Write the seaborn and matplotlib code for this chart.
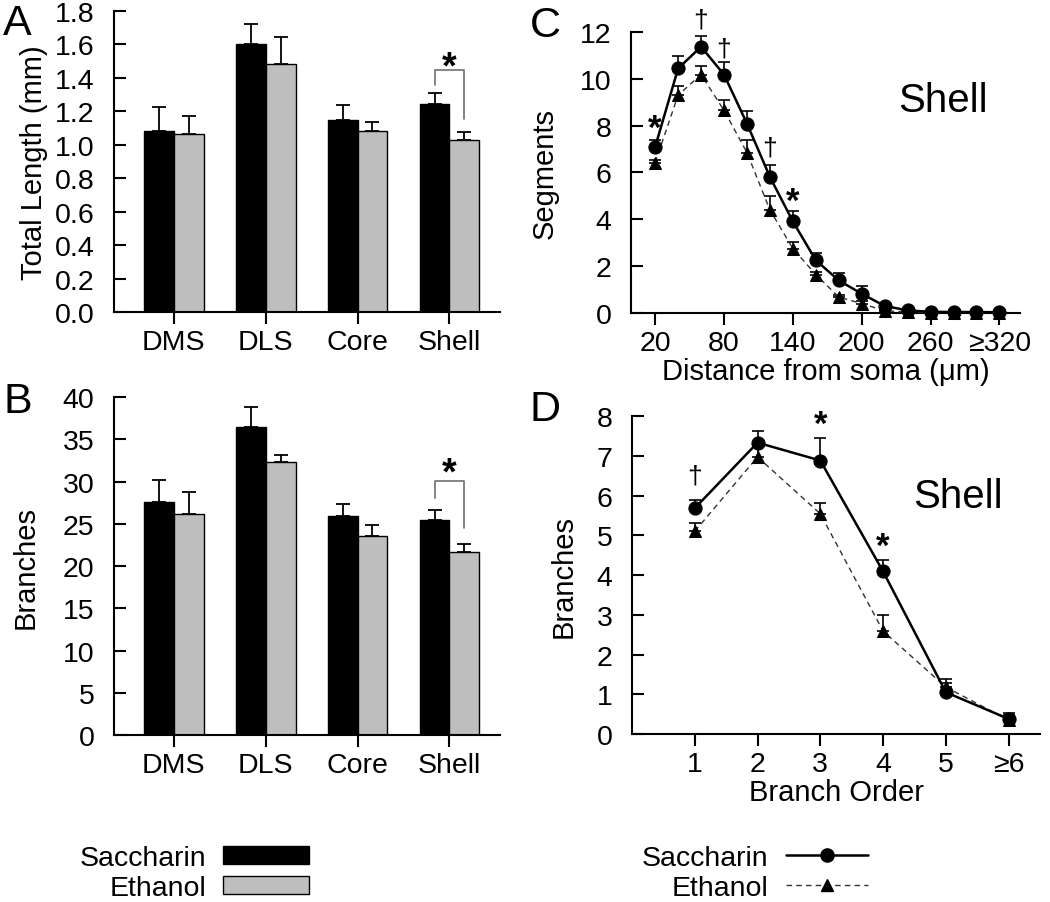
import numpy as np
import pandas as pd
import seaborn as sns
import matplotlib.pyplot as plt
from matplotlib.patches import Patch
from matplotlib.lines import Line2D

regions = ['DMS', 'DLS', 'Core', 'Shell']
groups = ['Saccharin', 'Ethanol']

length_sac = [1.08, 1.60, 1.15, 1.245]
length_sac_err = [0.145, 0.125, 0.09, 0.065]
length_eth = [1.066, 1.485, 1.08, 1.028]
length_eth_err = [0.104, 0.16, 0.054, 0.048]

branch_sac = [27.6, 36.5, 25.9, 25.5]
branch_sac_err = [2.6, 2.3, 1.4, 1.1]
branch_eth = [26.2, 32.3, 23.5, 21.7]
branch_eth_err = [2.6, 0.8, 1.3, 0.9]

distance = [20, 40, 60, 80, 100, 120, 140, 160, 180, 200, 220, 240, 260, 280, 300, 320]
dist_ticks = [20, 80, 140, 200, 260, 320]
dist_labels = ['20', '80', '140', '200', '260', '≥320']
seg_sac = [7.09, 10.44, 11.37, 10.18, 8.09, 5.81, 3.91, 2.25, 1.39, 0.82, 0.30, 0.11, 0.05, 0.04, 0.04, 0.03]
seg_sac_err = [0.28, 0.53, 0.45, 0.55, 0.54, 0.50, 0.45, 0.33, 0.32, 0.33, 0.05, 0.03, 0.02, 0.02, 0.02, 0.02]
seg_eth = [6.42, 9.30, 10.18, 8.65, 6.85, 4.40, 2.75, 1.64, 0.68, 0.40, 0.10, 0.03, 0.02, 0.02, 0.02, 0.02]
seg_eth_err = [0.10, 0.40, 0.35, 0.45, 0.55, 0.58, 0.30, 0.10, 0.10, 0.10, 0.02, 0.01, 0.0, 0.0, 0.0, 0.0]

order = [1, 2, 3, 4, 5, 6]
order_labels = ['1', '2', '3', '4', '5', '≥6']
br_sac = [5.68, 7.33, 6.88, 4.09, 1.05, 0.38]
br_sac_err = [0.21, 0.29, 0.57, 0.30, 0.34, 0.15]
br_eth = [5.10, 6.97, 5.54, 2.59, 1.18, 0.35]
br_eth_err = [0.21, 0.28, 0.28, 0.41, 0.10, 0.13]

sns.set_style('ticks')
plt.rcParams['font.family'] = ['Liberation Sans', 'DejaVu Sans']
plt.rcParams.update({
    'axes.linewidth': 1.5, 'axes.edgecolor': 'black', 'axes.labelcolor': 'black',
    'text.color': 'black', 'xtick.color': 'black', 'ytick.color': 'black',
    'xtick.direction': 'out', 'ytick.direction': 'in',
    'xtick.major.size': 8.5, 'ytick.major.size': 8.5,
    'xtick.major.width': 1.5, 'ytick.major.width': 1.5,
    'ytick.major.pad': 14, 'xtick.major.pad': 3.5,
})

TICK = 20.5
LAB = 21
GRAY = '#bebebe'

fig = plt.figure(figsize=(10.5, 9.03), dpi=100)
axA = fig.add_axes([0.1086, 0.6534, 0.3676, 0.3333])
axB = fig.add_axes([0.1086, 0.1849, 0.3676, 0.3743])
axC = fig.add_axes([0.601, 0.6523, 0.3705, 0.3112])
axD = fig.add_axes([0.6019, 0.186, 0.3886, 0.3522])


def bars(ax, sac, sac_err, eth, eth_err, ylim, yticks, ylabel, pad, bracket, star_y):
    df = pd.DataFrame({'region': regions * 2,
                       'group': ['Saccharin'] * 4 + ['Ethanol'] * 4,
                       'value': sac + eth})
    sns.barplot(data=df, x='region', y='value', hue='group', order=regions,
                hue_order=groups, palette=['black', GRAY], edgecolor='black',
                linewidth=1.0, width=0.65, errorbar=None, legend=False,
                saturation=1, ax=ax)
    pats = sorted(ax.patches, key=lambda p: p.get_x())
    xs = [p.get_x() + p.get_width() / 2 for p in pats]
    sac_x = xs[0::2]
    eth_x = xs[1::2]
    for x, y, e in [(sac_x, sac, sac_err), (eth_x, eth, eth_err)]:
        ax.errorbar(x, y, yerr=[np.zeros(len(e)), e], fmt='none', ecolor='black',
                    elinewidth=1.3, capsize=5, capthick=1.3, zorder=1)
    l, top, r = bracket
    ax.plot([sac_x[3], sac_x[3], eth_x[3], eth_x[3]], [l, top, top, r],
            color='#707070', lw=1.2)
    ax.text(3, star_y, '*', ha='center', va='center', fontsize=27, fontweight='bold')
    ax.set_xlim(-0.65, 3.55)
    ax.set_ylim(*ylim)
    ax.set_yticks(yticks)
    ax.set_xlabel('')
    ax.set_ylabel(ylabel, fontsize=LAB, labelpad=pad)
    ax.tick_params(labelsize=TICK)
    sns.despine(ax=ax)


bars(axA, length_sac, length_sac_err, length_eth, length_eth_err, (0, 1.8),
     np.arange(0, 1.81, 0.2), 'Total Length (mm)', 5, (1.36, 1.445, 1.156), 1.46)
axA.set_yticklabels([f'{v:.1f}' for v in np.arange(0, 1.81, 0.2)])
bars(axB, branch_sac, branch_sac_err, branch_eth, branch_eth_err, (0, 40),
     range(0, 41, 5), 'Branches', 17, (28.1, 30.06, 24.5), 31.0)


def lines(ax, x, sac, sac_err, eth, eth_err):
    ax.errorbar(x, eth, yerr=[np.zeros(len(eth_err)), eth_err], fmt='none',
                ecolor='black', elinewidth=1.2, capsize=4.5, capthick=1.2,
                zorder=2, clip_on=False)
    ax.errorbar(x, sac, yerr=[np.zeros(len(sac_err)), sac_err], fmt='none',
                ecolor='black', elinewidth=1.2, capsize=4.5, capthick=1.2,
                zorder=2, clip_on=False)
    sns.lineplot(x=x, y=eth, color='#333333', linestyle=(0, (4, 3)), lw=1.0,
                 marker='^', markersize=8, markeredgecolor='black',
                 markerfacecolor='black', ax=ax, zorder=3, clip_on=False)
    sns.lineplot(x=x, y=sac, color='black', lw=1.8, marker='o', markersize=9.5,
                 markeredgecolor='black', ax=ax, zorder=4, clip_on=False)
    ax.tick_params(labelsize=TICK)
    sns.despine(ax=ax)


lines(axC, distance, seg_sac, seg_sac_err, seg_eth, seg_eth_err)
axC.set_xlim(-1, 338)
axC.set_ylim(0, 12)
axC.set_yticks(range(0, 13, 2))
axC.set_xticks(dist_ticks)
axC.set_xticklabels(dist_labels)
axC.set_xlabel('Distance from soma (μm)', fontsize=LAB, labelpad=1)
axC.set_ylabel('Segments', fontsize=LAB, labelpad=15)
axC.text(271, 9.1, 'Shell', ha='center', va='center', fontsize=29)
for x, y, s in [(20, 7.9, '*'), (60, 12.55, '†'), (80, 11.3, '†'), (120, 7.05, '†'), (140, 4.75, '*')]:
    axC.text(x, y, s, ha='center', va='center', fontsize=25 if s == '*' else 19,
             fontweight='bold' if s == '*' else 'normal')

lines(axD, order, br_sac, br_sac_err, br_eth, br_eth_err)
axD.set_xlim(0, 6.5)
axD.set_ylim(0, 8)
axD.set_yticks(range(0, 9))
axD.set_xticks(order)
axD.set_xticklabels(order_labels)
axD.set_xlabel('Branch Order', fontsize=LAB, labelpad=1)
axD.set_ylabel('Branches', fontsize=LAB, labelpad=13.5)
axD.text(5.19, 6.0, 'Shell', ha='center', va='center', fontsize=29)
for x, y, s in [(1, 6.5, '†'), (3, 7.8, '*'), (4, 4.72, '*')]:
    axD.text(x, y, s, ha='center', va='center', fontsize=25 if s == '*' else 19,
             fontweight='bold' if s == '*' else 'normal')

for lab, x, y in [('A', 17, 24), ('B', 18, 402), ('C', 545, 26), ('D', 545, 410)]:
    fig.text(x / 1050, 1 - y / 903, lab, ha='center', va='center', fontsize=31)

bar_handles = [Patch(facecolor='black', edgecolor='black', lw=1.0),
               Patch(facecolor=GRAY, edgecolor='black', lw=1.0)]
fig.legend(bar_handles, groups, loc='center', bbox_to_anchor=(194 / 1050, 1 - 874 / 903),
           frameon=False, markerfirst=False, fontsize=20.5, handlelength=3.0,
           handleheight=0.6, handletextpad=0.6, labelspacing=0.15, borderpad=0)
line_handles = [Line2D([], [], color='black', lw=1.8, marker='o', markersize=9.5),
                Line2D([], [], color='#333333', lw=1.0, linestyle=(0, (4, 3)),
                       marker='^', markersize=8, markerfacecolor='black', markeredgecolor='black')]
fig.legend(line_handles, groups, loc='center', bbox_to_anchor=(755 / 1050, 1 - 874 / 903),
           frameon=False, markerfirst=False, fontsize=20.5, handlelength=2.9,
           handletextpad=0.6, labelspacing=0.15, borderpad=0, numpoints=1)

fig.savefig('out.png', dpi=100)
